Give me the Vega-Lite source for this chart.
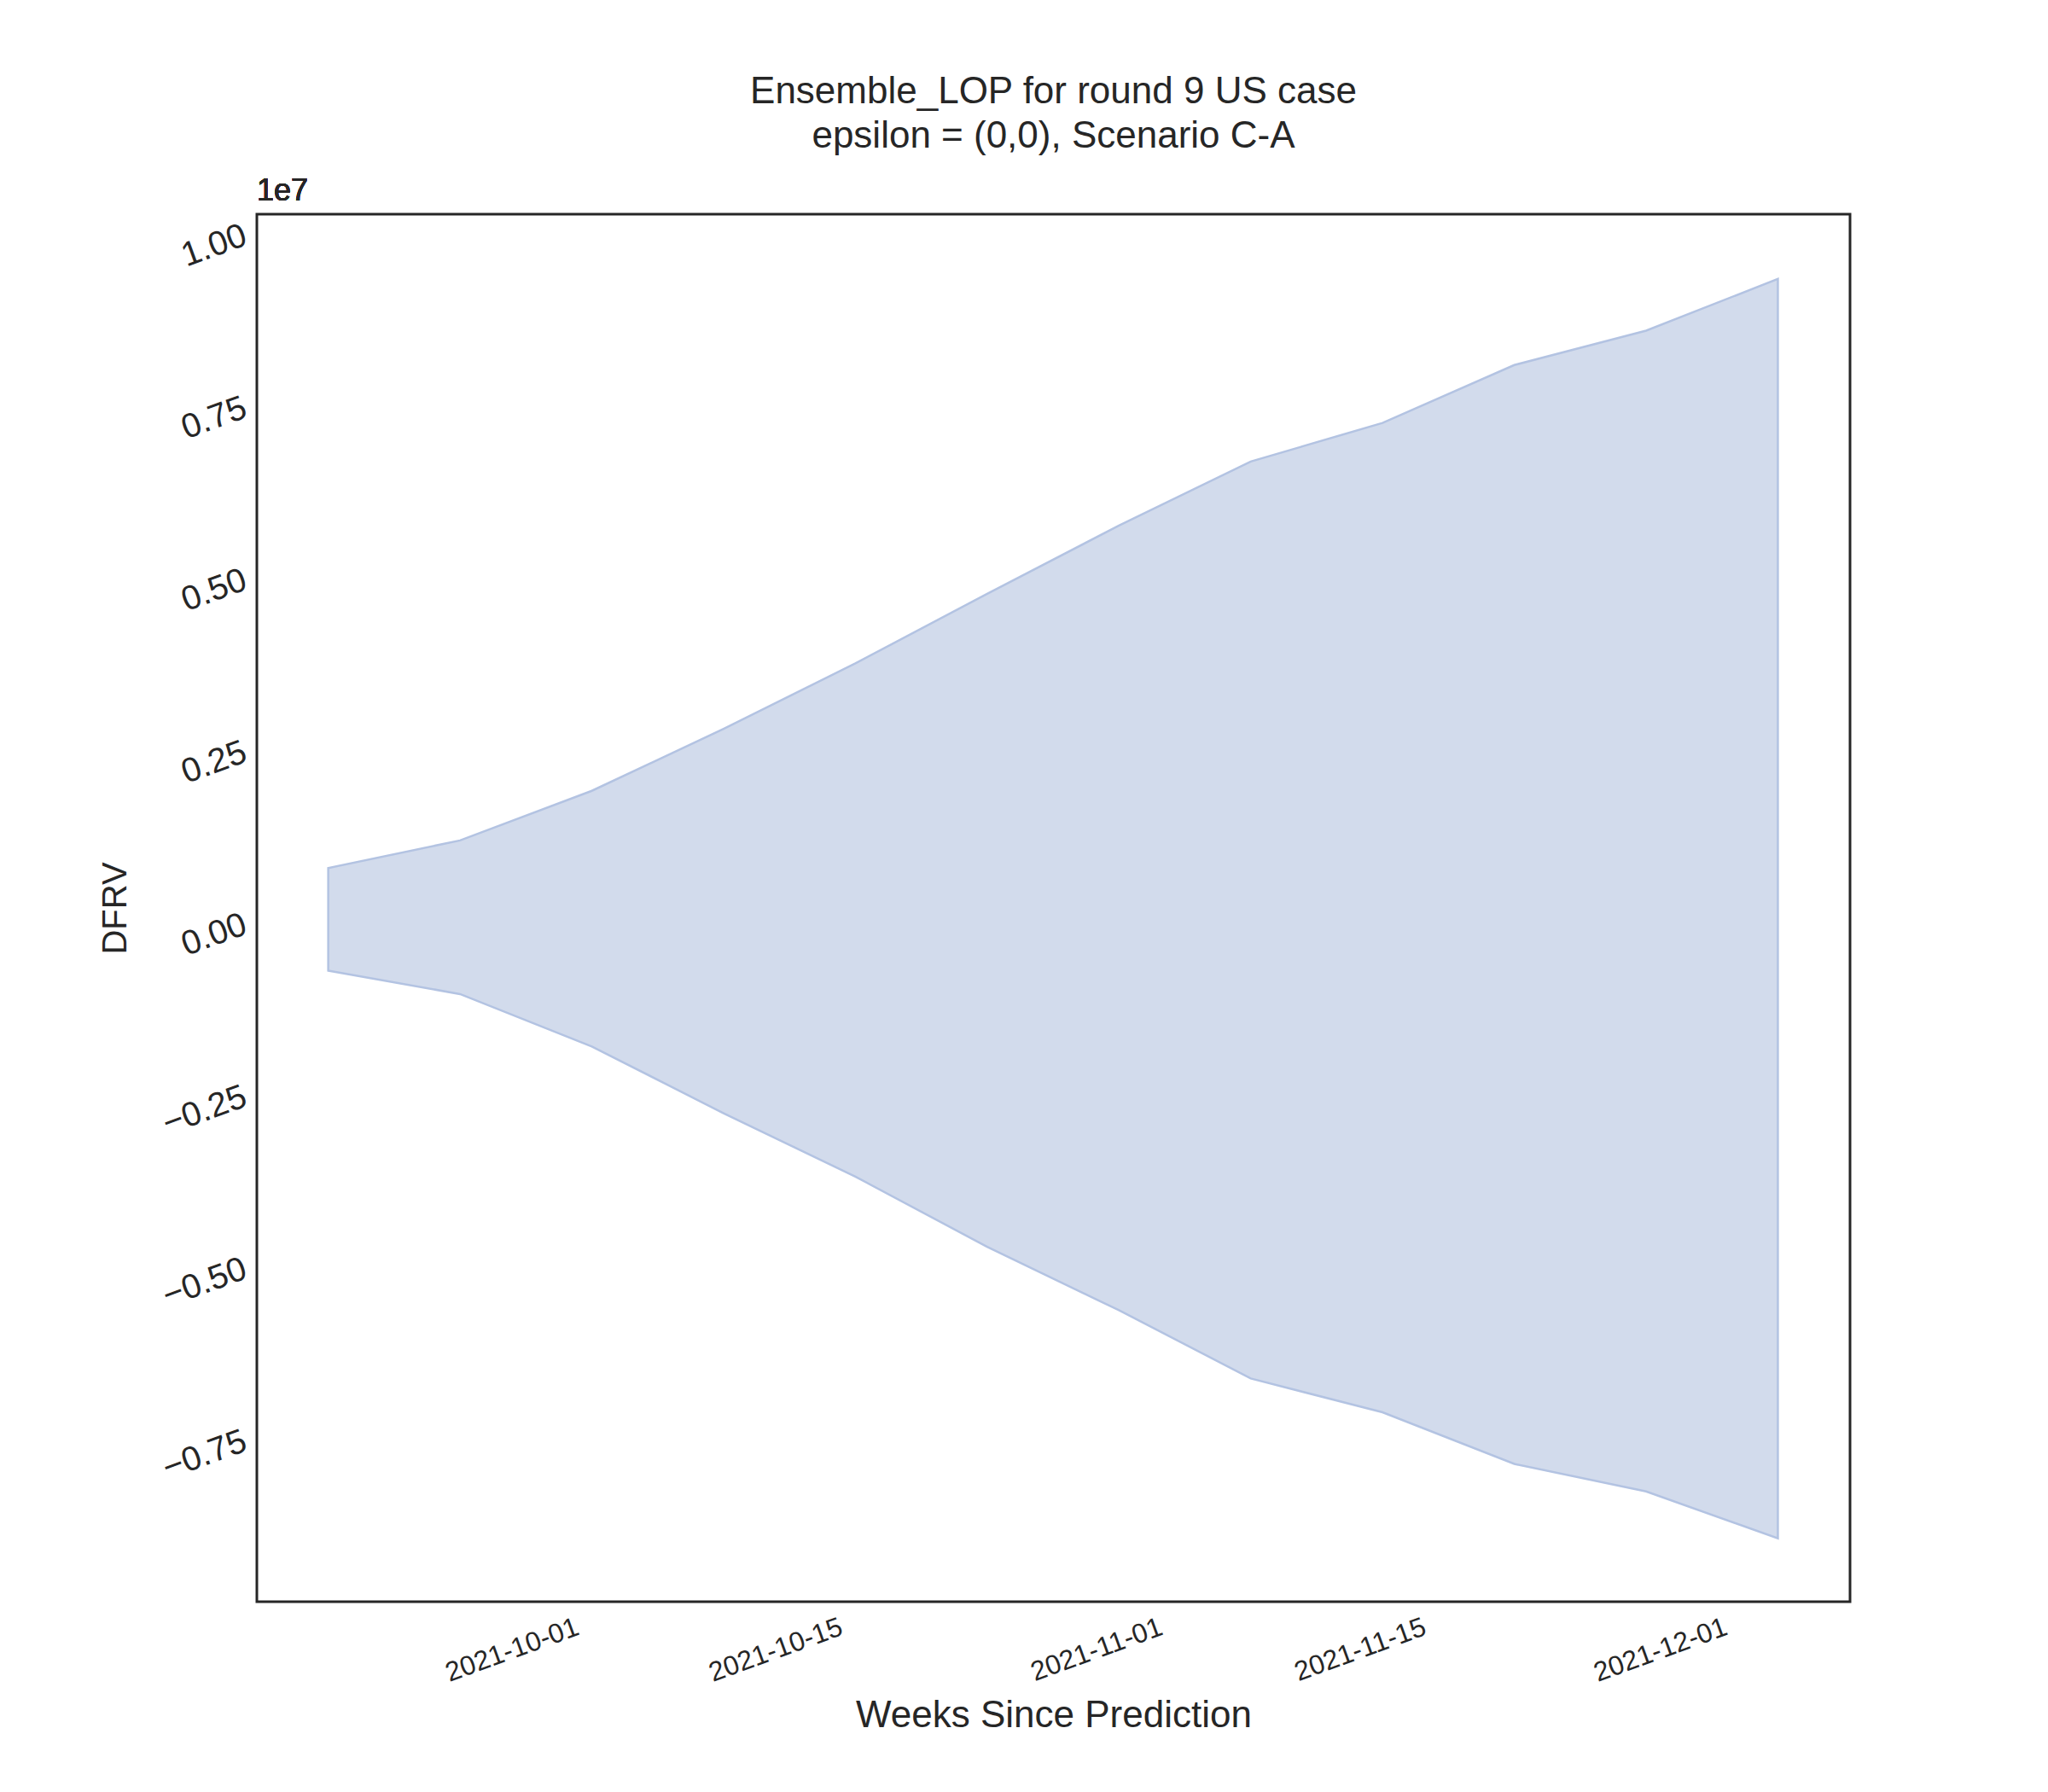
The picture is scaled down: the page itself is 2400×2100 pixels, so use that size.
{
  "$schema": "https://vega.github.io/schema/vega-lite/v6.json",
  "width": 1867,
  "height": 1626,
  "autosize": "none",
  "padding": {"left": 301, "top": 251, "right": 232, "bottom": 223},
  "background": "white",
  "config": {
    "view": {"stroke": "#262626", "strokeWidth": 3},
    "font": "Liberation Sans"
  },
  "title": {
    "text": ["Ensemble_LOP for round 9 US case", "epsilon = (0,0), Scenario C-A"],
    "fontSize": 44,
    "fontWeight": "normal",
    "color": "#262626",
    "offset": 24,
    "lineHeight": 52
  },
  "data": {
    "values": [
      {"date": "2021-09-18", "lo": -690000, "hi": 800000},
      {"date": "2021-09-25", "lo": -1030000, "hi": 1200000},
      {"date": "2021-10-02", "lo": -1790000, "hi": 1920000},
      {"date": "2021-10-09", "lo": -2760000, "hi": 2820000},
      {"date": "2021-10-16", "lo": -3680000, "hi": 3770000},
      {"date": "2021-10-23", "lo": -4700000, "hi": 4780000},
      {"date": "2021-10-30", "lo": -5620000, "hi": 5770000},
      {"date": "2021-11-06", "lo": -6610000, "hi": 6700000},
      {"date": "2021-11-13", "lo": -7100000, "hi": 7260000},
      {"date": "2021-11-20", "lo": -7850000, "hi": 8100000},
      {"date": "2021-11-27", "lo": -8250000, "hi": 8600000},
      {"date": "2021-12-04", "lo": -8930000, "hi": 9350000}
    ]
  },
  "layer": [
    {
      "mark": {"type": "area", "fill": "#d2dbec", "stroke": "#b3c3e2", "strokeWidth": 2.5},
      "encoding": {
        "x": {
          "field": "date", "type": "temporal",
          "scale": {"domain": ["2021-09-14T05:00:00", "2021-12-07T20:00:00"]},
          "title": "Weeks Since Prediction",
          "axis": {
            "values": ["2021-10-01", "2021-10-15", "2021-11-01", "2021-11-15", "2021-12-01"],
            "format": "%Y-%m-%d",
            "labelAngle": -20, "labelAlign": "right", "labelBaseline": "top",
            "labelFontSize": 32, "labelColor": "#262626", "labelPadding": 14,
            "ticks": false, "grid": false, "domain": false,
            "titleFontSize": 44, "titleFontWeight": "normal", "titleColor": "#262626", "titlePadding": 12
          }
        },
        "y": {
          "field": "lo", "type": "quantitative",
          "scale": {"domain": [-9850000, 10290000], "nice": false},
          "title": "DFRV",
          "axis": {
            "values": [-7500000, -5000000, -2500000, 0, 2500000, 5000000, 7500000, 10000000],
            "labelExpr": "format(datum.value / 1e7, '.2f')",
            "labelAngle": -20, "labelFontSize": 40, "labelColor": "#262626", "labelPadding": 14,
            "ticks": false, "grid": false, "domain": false,
            "titleFontSize": 40, "titleFontWeight": "normal", "titleColor": "#262626", "titlePadding": 30
          }
        },
        "y2": {"field": "hi"}
      }
    },
    {
      "mark": {"type": "text", "text": "1e7", "fontSize": 36, "color": "#262626", "align": "left", "baseline": "bottom", "dy": -8},
      "encoding": {
        "x": {"datum": {"year": 2021, "month": 9, "date": 14, "hours": 5}, "type": "temporal"},
        "y": {"datum": 10290000}
      }
    }
  ]
}
